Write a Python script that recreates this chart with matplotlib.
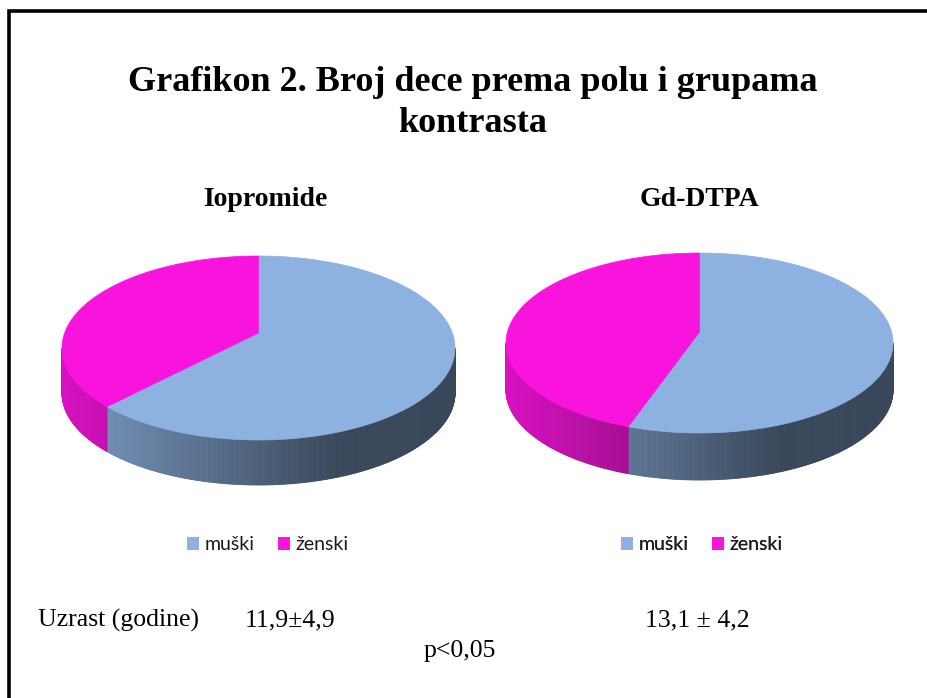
import numpy as np
import matplotlib
matplotlib.use("Agg")
import matplotlib.pyplot as plt
from matplotlib.patches import Polygon, Patch

# ---- data ----
categories = ["muški", "ženski"]
iopromide_values = [64, 36]
gddtpa_values = [56, 44]
group_titles = ["Iopromide", "Gd-DTPA"]
age_label = "Uzrast (godine)"
age_values = ["11,9±4,9", "13,1 ± 4,2"]
p_text = "p<0,05"
title = "Grafikon 2. Broj dece prema polu i grupama\nkontrasta"

colors = ["#8DB1E0", "#F914DE"]

W, H = 927, 698
fig = plt.figure(figsize=(W / 100, H / 100), dpi=100)
ax = fig.add_axes([0, 0, 1, 1])
ax.set_xlim(0, W)
ax.set_ylim(H, 0)
ax.axis("off")

# frame (left + top)
ax.plot([9.5, 9.5, W + 2], [H + 2, 11, 11], color="black", lw=2.6, solid_capstyle="butt",
        solid_joinstyle="miter")

serif = "Liberation Serif"
ax.text(473, 103, title, ha="center", va="center", fontsize=26, fontweight="bold",
        family=serif, linespacing=1.3)


def shade(rgb_hex, u):
    f = np.clip(0.87 - 0.33 * (u + 1), 0.40, 1.0)
    c = np.array(matplotlib.colors.to_rgb(rgb_hex))
    return tuple(c * f)


def pie3d(values, cx, cy, a, b, depth, apex_dy):
    vals = np.asarray(values, dtype=float)
    fr = vals / vals.sum()
    edges = np.concatenate([[0], np.cumsum(fr)]) * 360.0
    rim = lambda t: (cx + a * np.sin(np.radians(t)), cy - b * np.cos(np.radians(t)))
    # sides
    for i in range(len(vals)):
        t0, t1 = max(edges[i], 90), min(edges[i + 1], 270)
        if t1 <= t0:
            continue
        ts = np.linspace(t0, t1, int((t1 - t0) * 2) + 2)
        for ta, tb in zip(ts[:-1], ts[1:]):
            xa, ya = rim(ta)
            xb, yb = rim(tb)
            u = ((xa + xb) / 2 - cx) / a
            c = shade(colors[i], u)
            ax.add_patch(Polygon([(xa, ya), (xb, yb), (xb, yb + depth), (xa, ya + depth)],
                                 closed=True, facecolor=c, edgecolor=c, lw=0.6))
    # tops
    apex = (cx, cy + apex_dy)
    for i in range(len(vals)):
        ts = np.linspace(edges[i], edges[i + 1], 200)
        pts = [apex] + [rim(t) for t in ts]
        ax.add_patch(Polygon(pts, closed=True, facecolor=colors[i], edgecolor=colors[i], lw=0.5))


pie3d(iopromide_values, 258.5, 348, 196.5, 92, 45, -15)
pie3d(gddtpa_values, 699.5, 343, 193.5, 90, 47, -11)

ax.text(265, 200, group_titles[0], ha="center", va="center", fontsize=20,
        fontweight="bold", family=serif)
ax.text(700, 200, group_titles[1], ha="center", va="center", fontsize=20,
        fontweight="bold", family=serif)

handles = [Patch(facecolor=colors[0]), Patch(facecolor=colors[1])]
for xc in (268, 702):
    leg = ax.legend(handles, categories, loc="center", bbox_to_anchor=(xc, 545),
                    bbox_transform=ax.transData, ncol=2, frameon=False,
                    prop={"family": "Lato", "size": 14}, labelcolor="#1a1a1a",
                    handlelength=0.6, handleheight=0.6, handletextpad=0.3,
                    columnspacing=1.2)
    ax.add_artist(leg)

ax.text(38, 620, age_label, ha="left", va="center", fontsize=18.5, family=serif)
ax.text(245, 620, age_values[0], ha="left", va="center", fontsize=18.5, family=serif)
ax.text(645, 620, age_values[1], ha="left", va="center", fontsize=18.5, family=serif)
ax.text(460, 651, p_text, ha="center", va="center", fontsize=18.5, family=serif)

fig.savefig("out.png", dpi=100)
